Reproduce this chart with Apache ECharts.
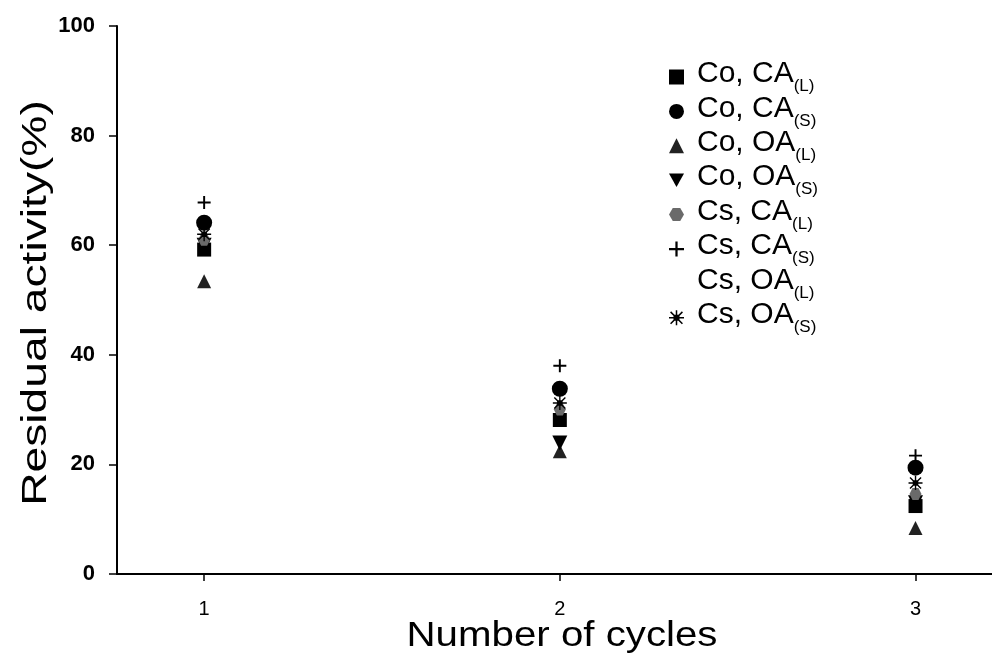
<!DOCTYPE html>
<html>
<head>
<meta charset="utf-8">
<script src="https://cdn.jsdelivr.net/npm/echarts@6/dist/echarts.min.js"></script>
<style>
  html, body { margin: 0; padding: 0; background: #fff; }
  #chart { width: 992px; height: 655px; }
</style>
</head>
<body>
<div id="chart"></div>
<script>
// Residual activity after repeated cycles
const cycles = [1, 2, 3];
const yTicks = [0, 20, 40, 60, 80, 100];

const coCAL = [59.2, 28.1, 12.4];
const coCAS = [64.1, 33.8, 19.4];
const coOAL = [53.4, 22.4, 8.4];
const coOAS = [60.0, 23.9, 13.0];
const csCAL = [61.0, 30.0, 14.6];
const csCAS = [67.8, 38.0, 21.6];
const csOAL = [58.0, 27.0, 13.5];
const csOAS = [62.0, 31.2, 16.6];

const xTitle = 'Number of cycles';
const yTitle = 'Residual activity(%)';

// legend names: base text + subscript
const seriesNames = [
  ['Co, CA', '(L)'], ['Co, CA', '(S)'], ['Co, OA', '(L)'], ['Co, OA', '(S)'],
  ['Cs, CA', '(L)'], ['Cs, CA', '(S)'], ['Cs, OA', '(L)'], ['Cs, OA', '(S)']
];
const seriesValues = [coCAL, coCAS, coOAL, coOAS, csCAL, csCAS, csOAL, csOAS];

const FONT = 'Liberation Sans, Arial, sans-serif';

const plusPath = 'path://M8.5 0 L11.5 0 L11.5 8.5 L20 8.5 L20 11.5 L11.5 11.5 L11.5 20 L8.5 20 L8.5 11.5 L0 11.5 L0 8.5 L8.5 8.5 Z';
const starPath = 'path://M0 9 L20 9 L20 11 L0 11 Z M9 0 L11 0 L11 20 L9 20 Z ' +
  'M1.4 2.8 L2.8 1.4 L18.6 17.2 L17.2 18.6 Z M17.2 1.4 L18.6 2.8 L2.8 18.6 L1.4 17.2 Z ' +
  'M6 6 L14 6 L14 14 L6 14 Z';
const hexPath = 'path://M5 0 L15 0 L20 8.66 L15 17.32 L5 17.32 L0 8.66 Z';

const markers = [
  { symbol: 'rect', size: 14, color: '#000' },
  { symbol: 'circle', size: 16, color: '#000' },
  { symbol: 'triangle', size: 14, color: '#222' },
  { symbol: 'path://M0 0 L20 0 L10 18 Z', size: 15, color: '#000' },
  { symbol: hexPath, size: 12, color: '#6a6a6a' },
  { symbol: plusPath, size: 13, color: '#000' },
  { symbol: 'none', size: 12, color: 'rgba(0,0,0,0)' },
  { symbol: starPath, size: 14, color: '#000' }
];

const names = seriesNames.map(n => n[0] + n[1]);
const series = seriesValues.map((vals, i) => ({
  name: names[i],
  type: 'scatter',
  symbol: markers[i].symbol,
  symbolSize: markers[i].size,
  itemStyle: { color: markers[i].color, opacity: 1 },
  data: cycles.map((c, j) => [c, vals[j]])
}));

const chart = echarts.init(document.getElementById('chart'), null, { renderer: 'canvas' });
chart.setOption({
  animation: false,
  backgroundColor: '#fff',
  grid: { left: 117, right: 0, top: 26, bottom: 81 },
  legend: {
    orient: 'vertical',
    left: 664,
    top: 54,
    itemWidth: 15,
    itemHeight: 15,
    itemGap: -1.6,
    data: names.map((n, i) => ({
      name: n,
      icon: markers[i].symbol === 'none' ? 'none' : markers[i].symbol
    })),
    formatter: function (name) {
      const k = names.indexOf(name);
      return '{m|' + seriesNames[k][0] + '}{s|' + seriesNames[k][1] + '}';
    },
    textStyle: {
      padding: [0, 0, 0, 8],
      rich: {
        m: { fontFamily: FONT, fontSize: 30, color: '#000', lineHeight: 30, verticalAlign: 'top' },
        s: { fontFamily: FONT, fontSize: 17, color: '#000', padding: [19, 0, 0, 0] }
      }
    }
  },
  xAxis: {
    type: 'value',
    min: 0.755,
    max: 3.215,
    interval: 1,
    splitLine: { show: false },
    axisLine: { show: true, onZero: false, lineStyle: { color: '#000', width: 2 } },
    axisTick: { show: true, length: 7, lineStyle: { color: '#000', width: 1.5 },
      customValues: cycles },
    axisLabel: {
      customValues: cycles,
      margin: 25,
      fontFamily: FONT,
      fontSize: 20, color: '#000'
    }
  },
  yAxis: {
    type: 'value',
    min: yTicks[0],
    max: yTicks[yTicks.length - 1],
    interval: 20,
    splitLine: { show: false },
    axisLine: { show: true, lineStyle: { color: '#000', width: 2 } },
    axisTick: { show: true, length: 8, lineStyle: { color: '#000', width: 1.5 } },
    axisLabel: {
      margin: 22,
      fontFamily: FONT,
      fontWeight: 'bold',
      fontSize: 22, color: '#000'
    }
  },
  // axis titles, set in a wide face
  graphic: [
    {
      type: 'text',
      x: 562, y: 636,
      scaleX: 1.15,
      style: { text: xTitle, font: '35px ' + FONT, fill: '#000', align: 'center', verticalAlign: 'middle' }
    },
    {
      type: 'text',
      x: 36, y: 303,
      rotation: Math.PI / 2,
      scaleX: 1.32,
      style: { text: yTitle, font: '35px ' + FONT, fill: '#000', align: 'center', verticalAlign: 'middle' }
    }
  ],
  series: series
});
</script>
</body>
</html>
